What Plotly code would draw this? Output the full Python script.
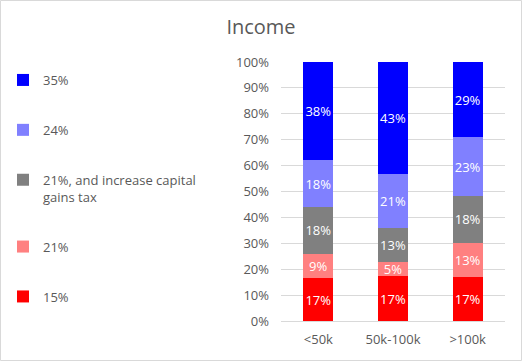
import plotly.graph_objects as go

categories = ["<50k", "50k-100k", ">100k"]
series_names = ["15%", "21%", "21%, and increase capital<br>gains tax", "24%", "35%"]
v15 = [16.6, 17.3, 16.9]
v21 = [9.4, 5.4, 13.2]
v21cap = [18.0, 13.3, 18.2]
v24 = [18.0, 20.7, 22.6]
v35 = [38.0, 43.3, 29.1]
colors = ["#ff0000", "#ff8080", "#808080", "#8080ff", "#0000ff"]

W, H = 522, 361
ml, mr, mt, mb = 281, 17, 62, 40
PW, PH = W - ml - mr, H - mt - mb

fig = go.Figure()
for i, (name, vals, col) in enumerate(zip(series_names, [v15, v21, v21cap, v24, v35], colors)):
    fig.add_trace(go.Bar(
        x=categories, y=vals, name=name, marker_color=col, marker_line_width=0,
        text=[f"{round(v):.0f}%" for v in vals], textposition="inside",
        insidetextanchor="middle", textangle=0, constraintext="none",
        textfont=dict(color="white", size=13, family="Open Sans"),
        legendgroup=name, legendrank=1000 - i,
    ))

fig.update_layout(
    width=W, height=H, barmode="stack", bargap=0.6,
    margin=dict(l=ml, r=mr, t=mt, b=mb, autoexpand=False),
    paper_bgcolor="white", plot_bgcolor="white",
    font=dict(family="Open Sans", size=13, color="#595959"),
    title=dict(text="Income", x=0.5, xref="container", xanchor="center", y=1 - 27 / H, yanchor="middle",
               yref="container", font=dict(size=20, color="#595959")),
    legend=dict(traceorder="grouped", tracegroupgap=30, valign="top",
                x=-(ml - 3) / PW, xanchor="left", y=1 + (mt - 65) / PH, yanchor="top",
                font=dict(size=13, color="#595959"), itemwidth=30, bgcolor="rgba(0,0,0,0)"),
    yaxis=dict(range=[0, 100], dtick=10, ticksuffix="%", showgrid=True, gridcolor="#d9d9d9",
               zeroline=False, showline=False, tickfont=dict(size=13, color="#595959"), ticks="", ticklen=0,
               automargin=False, ticklabelstandoff=11),
    xaxis=dict(showline=True, linecolor="#d9d9d9", tickfont=dict(size=13, color="#595959"),
               ticklabelstandoff=6, automargin=False),
)

fig.add_shape(type="rect", xref="paper", yref="paper",
              x0=-(ml - 0.5) / PW, x1=1 + (mr - 0.5) / PW,
              y0=-(mb - 0.5) / PH, y1=1 + (mt - 0.5) / PH,
              line=dict(color="#d9d9d9", width=1), layer="below")

fig.write_html("out.html", config={"displayModeBar": False},
               post_script="document.body.style.margin='0';")
